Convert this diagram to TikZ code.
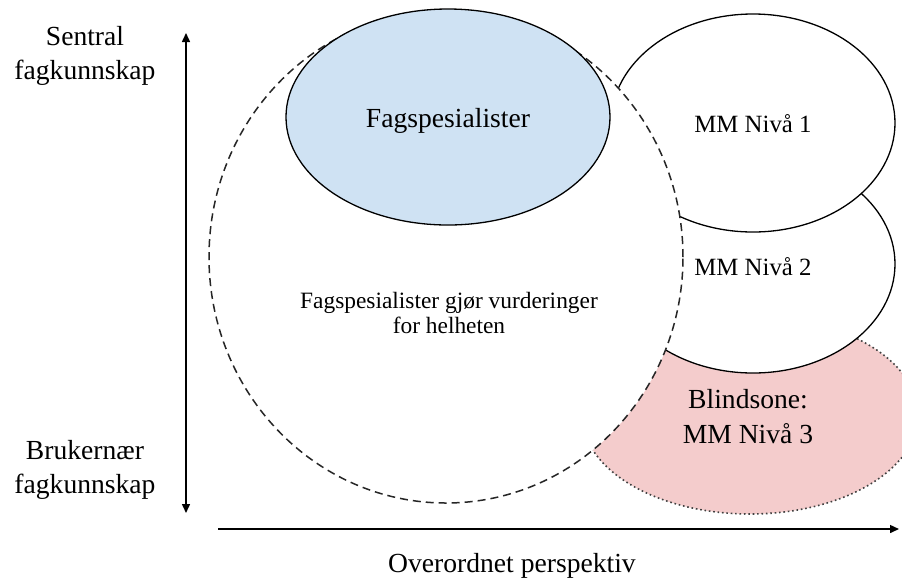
\documentclass[tikz,border=0pt]{standalone}
\usepackage{fontspec}
\setmainfont{Liberation Serif}
\usetikzlibrary{shapes.geometric,arrows.meta}
\definecolor{specblue}{HTML}{CFE2F3}
\definecolor{blindred}{HTML}{F4CCCC}
\tikzset{
  zone/.style={ellipse, inner sep=0pt, outer sep=0pt, line width=0.65pt, align=center},
  solidzone/.style={zone, draw=black, fill=white},
  levellabel/.style={font=\fontsize{12.4}{14}\selectfont},
  axis/.style={line width=0.75pt, black},
  axislabel/.style={align=center, font=\fontsize{13.8}{17}\selectfont},
}
\begin{document}
\begin{tikzpicture}[x=0.5pt, y=-0.5pt]
  \clip (0,0) rectangle (902,586);
  \fill[white] (0,0) rectangle (902,586);

  % blind zone (level 3), partly hidden by the others
  \node[zone, draw=black!75, line width=0.8pt, dash pattern=on 0.8pt off 1.4pt,
        fill=blindred, minimum width=168pt, minimum height=99pt] (niva3) at (750,415) {};
  \node[font=\fontsize{13.8}{17.5}\selectfont, align=center] (niva3txt) at (748,417) {Blindsone:\\MM Nivå 3};

  % levels 2 and 1
  \node[solidzone, minimum width=142pt, minimum height=109pt] (niva2) at (753,264) {};
  \node[solidzone, minimum width=142pt, minimum height=109pt] (niva1) at (753,123) {};
  \node[levellabel] (niva2txt) at (753,267) {MM Nivå 2};
  \node[levellabel] (niva1txt) at (753,124) {MM Nivå 1};

  % overall assessment zone
  \node[zone, draw=black!85, line width=0.75pt, dash pattern=on 4pt off 2.5pt, fill=white,
        minimum width=237pt, minimum height=246pt] (helhet) at (446,257) {};
  \node[align=center, font=\fontsize{11.7}{12.6}\selectfont] (helhettxt) at (449,313)
       {Fagspesialister gjør vurderinger\\for helheten};

  % specialists
  \node[zone, draw=black, fill=specblue, minimum width=162pt, minimum height=108pt] (spes) at (448,117) {};
  \node[font=\fontsize{13.8}{17}\selectfont] (spestxt) at (448,121) {Fagspesialister};

  % axes
  \coordinate (vtop) at (186,33);
  \coordinate (vbot) at (186,513);
  \coordinate (hleft) at (218,529);
  \coordinate (hright) at (899,529);
  \draw[axis, {Triangle[length=4.5pt,width=4pt]}-{Triangle[length=4.5pt,width=4pt]}] (vbot) -- (vtop);
  \draw[axis, -{Triangle[length=4.5pt,width=4pt]}] (hleft) -- (hright);

  % axis labels
  \node[axislabel] (sentral) at (85,56) {Sentral\\fagkunnskap};
  \node[axislabel] (brukernaer) at (85,470) {Brukernær\\fagkunnskap};
  \node[axislabel] (overordnet) at (512,566) {Overordnet perspektiv};
\end{tikzpicture}
\end{document}
